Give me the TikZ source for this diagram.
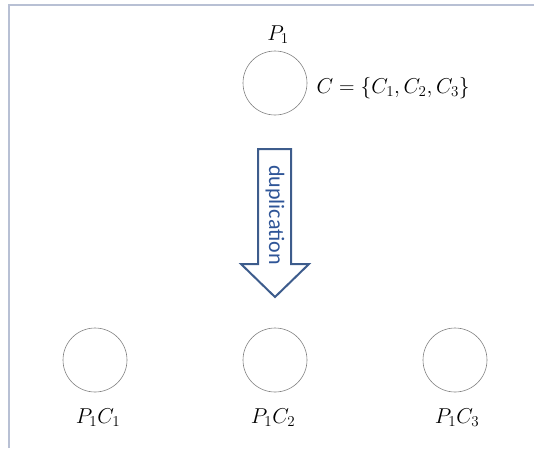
\documentclass[tikz,border=0pt]{standalone}
\usepackage{fix-cm}
\usepackage{amsmath, amssymb}
\usepackage{fontspec}
\newfontfamily\calfont{Carlito}
\usepackage{tikz}
\usetikzlibrary{arrows.meta, calc, positioning}

\definecolor{framegray}{RGB}{184,192,212}
\definecolor{arrowblue}{RGB}{61,92,140}
\definecolor{textblue}{RGB}{47,85,151}

\begin{document}
\begin{tikzpicture}[x=1pt, y=-1pt,
    proc/.style={circle, draw=black!50, line width=0.6pt, minimum size=64pt, inner sep=0pt},
    lbl/.style={font=\fontsize{21.5}{26}\selectfont}]
\useasboundingbox (0,0) rectangle (534,448);

% frame
\draw[framegray, line width=1.5pt] (9,448) -- (9,5) -- (534,5);

% original process
\node[lbl] (plbl) at (278,35) {$P_1$};
\node[proc] (p) at (275,83) {};
\node[lbl, anchor=west] (cset) at (313,88) {$C=\{C_1,C_2,C_3\}$};

% duplication arrow
\draw[arrowblue, line width=2pt, line join=miter]
    (258,149) -- (291,149) -- (291,264) -- (309,264) -- (275,297)
    -- (241,264) -- (258,264) -- cycle;
\node[rotate=-90, textblue, font=\calfont\fontsize{22}{26}\selectfont] (dup) at (275,215) {duplication};

% copies
\node[proc] (c1) at (95,360) {};
\node[proc] (c2) at (275,360) {};
\node[proc] (c3) at (455,360) {};
\node[lbl] (c1lbl) at (98,418) {$P_1C_1$};
\node[lbl] (c2lbl) at (273,418) {$P_1C_2$};
\node[lbl] (c3lbl) at (457,418) {$P_1C_3$};

\end{tikzpicture}
\end{document}
